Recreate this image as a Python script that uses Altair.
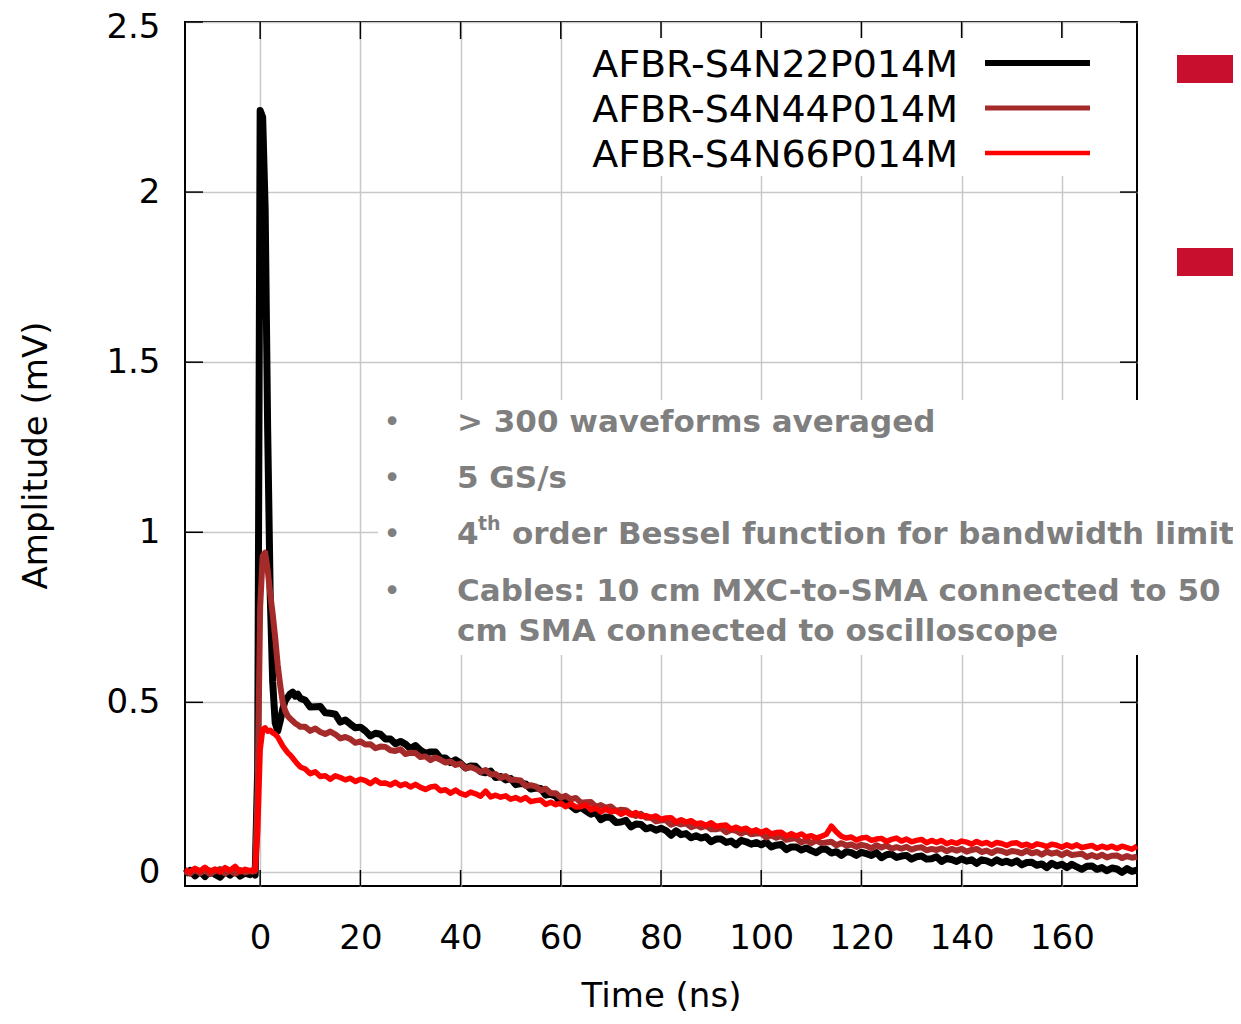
import altair as alt
import pandas as pd

SERIES = ["AFBR-S4N22P014M", "AFBR-S4N44P014M", "AFBR-S4N66P014M"]
COLORS = ["#000000", "#a52a2a", "#ff0000"]
WIDTHS = [7, 6, 5.5]
LEGEND_WIDTHS = [6, 5, 4.5]

X_TICKS = [0, 20, 40, 60, 80, 100, 120, 140, 160]
Y_TICKS = [0, 0.5, 1, 1.5, 2, 2.5]

# sample times (ns)
T_PRE = [-15, -14, -13, -12, -11, -10, -9, -8, -7, -6, -5, -4, -3, -2]
T_PEAK = [-1.5, -1.0, -0.5, 0.0, 0.5, 1.0, 1.5, 2.0, 2.5, 3.0, 3.5, 4.0, 4.5, 5.0, 5.5, 6.0, 6.5, 7.0, 7.5, 8.0]
T_TAIL = list(range(9, 176))

# AFBR-S4N22P014M (black)
B_PRE = [-0.004, 0.006, -0.010, 0.003, -0.012, 0.004, -0.006, -0.014, 0.002, -0.008, 0.005, -0.011, -0.002, -0.007]
B_PEAK = [0.003, -0.008, 0.30, 2.24, 2.22, 1.95, 1.30, 0.82, 0.56, 0.44, 0.415, 0.445, 0.48, 0.505, 0.515, 0.525, 0.53, 0.518, 0.524, 0.512]
B_TAIL = [
    0.506, 0.486, 0.487, 0.488, 0.469, 0.468, 0.465, 0.442, 0.448, 0.436,
    0.425, 0.427, 0.416, 0.401, 0.409, 0.406, 0.392, 0.392, 0.378, 0.385,
    0.377, 0.364, 0.373, 0.359, 0.350, 0.354, 0.354, 0.336, 0.336, 0.323,
    0.331, 0.321, 0.307, 0.313, 0.312, 0.296, 0.293, 0.298, 0.279, 0.282,
    0.272, 0.276, 0.258, 0.261, 0.260, 0.245, 0.248, 0.247, 0.227, 0.230,
    0.224, 0.204, 0.211, 0.196, 0.184, 0.191, 0.181, 0.171, 0.176, 0.155,
    0.163, 0.161, 0.147, 0.148, 0.153, 0.134, 0.142, 0.141, 0.128, 0.132,
    0.124, 0.130, 0.123, 0.109, 0.122, 0.111, 0.114, 0.102, 0.108, 0.101,
    0.105, 0.090, 0.098, 0.098, 0.088, 0.092, 0.081, 0.094, 0.090, 0.083,
    0.088, 0.081, 0.089, 0.075, 0.080, 0.082, 0.067, 0.075, 0.075, 0.066,
    0.072, 0.064, 0.058, 0.068, 0.068, 0.057, 0.061, 0.050, 0.061, 0.058,
    0.050, 0.059, 0.055, 0.050, 0.058, 0.043, 0.052, 0.054, 0.044, 0.048,
    0.050, 0.039, 0.046, 0.048, 0.039, 0.040, 0.046, 0.032, 0.041, 0.038,
    0.032, 0.040, 0.033, 0.037, 0.026, 0.037, 0.034, 0.027, 0.037, 0.029,
    0.033, 0.027, 0.034, 0.022, 0.029, 0.030, 0.021, 0.025, 0.014, 0.027,
    0.019, 0.024, 0.014, 0.024, 0.016, 0.009, 0.018, 0.019, 0.009, 0.014,
    0.005, 0.013, 0.010, 0.000, 0.011, 0.003, 0.007,
]

# AFBR-S4N44P014M (brown)
N_PRE = [0.003, -0.004, 0.008, -0.002, 0.006, -0.005, 0.004, 0.010, -0.003, 0.005, -0.004, 0.007, 0.000, 0.004]
N_PEAK = [0.002, 0.004, 0.25, 0.78, 0.93, 0.94, 0.89, 0.82, 0.76, 0.69, 0.61, 0.55, 0.50, 0.475, 0.46, 0.452, 0.445, 0.438, 0.434, 0.428]
N_TAIL = [
    0.428, 0.416, 0.423, 0.413, 0.407, 0.414, 0.406, 0.394, 0.398, 0.392,
    0.381, 0.385, 0.376, 0.377, 0.365, 0.370, 0.369, 0.359, 0.357, 0.362,
    0.348, 0.352, 0.351, 0.339, 0.341, 0.330, 0.338, 0.331, 0.323, 0.326,
    0.316, 0.320, 0.306, 0.310, 0.304, 0.295, 0.301, 0.288, 0.289, 0.278,
    0.283, 0.272, 0.272, 0.270, 0.254, 0.256, 0.253, 0.241, 0.246, 0.233,
    0.233, 0.220, 0.225, 0.215, 0.219, 0.205, 0.206, 0.207, 0.193, 0.198,
    0.190, 0.194, 0.181, 0.184, 0.183, 0.172, 0.166, 0.172, 0.161, 0.161,
    0.150, 0.153, 0.153, 0.140, 0.146, 0.141, 0.144, 0.133, 0.139, 0.132,
    0.137, 0.127, 0.127, 0.130, 0.118, 0.125, 0.122, 0.114, 0.121, 0.112,
    0.114, 0.114, 0.103, 0.109, 0.102, 0.107, 0.096, 0.099, 0.100, 0.088,
    0.095, 0.086, 0.094, 0.086, 0.088, 0.090, 0.080, 0.086, 0.079, 0.082,
    0.075, 0.081, 0.078, 0.071, 0.080, 0.073, 0.079, 0.070, 0.074, 0.070,
    0.075, 0.067, 0.072, 0.074, 0.065, 0.069, 0.066, 0.071, 0.062, 0.069,
    0.064, 0.069, 0.061, 0.066, 0.069, 0.060, 0.064, 0.057, 0.065, 0.063,
    0.057, 0.063, 0.061, 0.056, 0.064, 0.056, 0.060, 0.052, 0.061, 0.055,
    0.059, 0.051, 0.059, 0.051, 0.053, 0.055, 0.045, 0.051, 0.045, 0.052,
    0.044, 0.049, 0.050, 0.042, 0.048, 0.043, 0.046,
]

# AFBR-S4N66P014M (red)
R_PRE = [0.008, 0.002, 0.012, 0.004, 0.015, 0.003, 0.010, 0.001, 0.014, 0.006, 0.018, 0.002, 0.009, 0.005]
R_PEAK = [0.008, 0.006, 0.12, 0.36, 0.42, 0.425, 0.415, 0.418, 0.41, 0.406, 0.398, 0.385, 0.372, 0.362, 0.352, 0.345, 0.336, 0.327, 0.318, 0.31]
R_TAIL = [
    0.304, 0.290, 0.296, 0.282, 0.284, 0.274, 0.284, 0.279, 0.272, 0.277,
    0.267, 0.274, 0.270, 0.261, 0.272, 0.262, 0.263, 0.257, 0.265, 0.255,
    0.260, 0.251, 0.259, 0.250, 0.244, 0.251, 0.253, 0.240, 0.243, 0.233,
    0.242, 0.232, 0.227, 0.236, 0.231, 0.224, 0.239, 0.222, 0.227, 0.221,
    0.225, 0.215, 0.220, 0.213, 0.220, 0.208, 0.211, 0.213, 0.200, 0.206,
    0.199, 0.204, 0.193, 0.202, 0.192, 0.193, 0.199, 0.184, 0.189, 0.178,
    0.187, 0.178, 0.181, 0.171, 0.178, 0.169, 0.176, 0.164, 0.167, 0.162,
    0.166, 0.156, 0.160, 0.161, 0.148, 0.155, 0.148, 0.152, 0.143, 0.145,
    0.138, 0.146, 0.135, 0.138, 0.139, 0.127, 0.133, 0.126, 0.130, 0.120,
    0.125, 0.117, 0.124, 0.113, 0.117, 0.118, 0.107, 0.114, 0.107, 0.113,
    0.104, 0.108, 0.101, 0.106, 0.112, 0.136, 0.119, 0.106, 0.101, 0.104,
    0.095, 0.101, 0.103, 0.094, 0.098, 0.100, 0.091, 0.097, 0.101, 0.092,
    0.098, 0.090, 0.094, 0.097, 0.087, 0.094, 0.088, 0.094, 0.084, 0.090,
    0.085, 0.092, 0.089, 0.083, 0.091, 0.084, 0.088, 0.080, 0.088, 0.085,
    0.079, 0.086, 0.087, 0.079, 0.083, 0.076, 0.084, 0.081, 0.076, 0.083,
    0.080, 0.074, 0.081, 0.075, 0.081, 0.073, 0.076, 0.079, 0.071, 0.077,
    0.072, 0.077, 0.070, 0.077, 0.073, 0.068, 0.077,
]

NOTES = [
    "> 300 waveforms averaged",
    "5 GS/s",
    None,  # "4th order ..." line is built from the three parts below
    "Cables: 10 cm MXC-to-SMA connected to 50",
    "cm SMA connected to oscilloscope",
]
NOTE3 = ("4", "th", "order Bessel function for bandwidth limit")

TIME = T_PRE + T_PEAK + T_TAIL
VALUES = [B_PRE + B_PEAK + B_TAIL, N_PRE + N_PEAK + N_TAIL, R_PRE + R_PEAK + R_TAIL]
for v in VALUES:
    assert len(v) == len(TIME), (len(v), len(TIME))

rows = []
for s, vals in zip(SERIES, VALUES):
    for t, v in zip(TIME, vals):
        rows.append({"t": t, "v": v, "series": s})
df = pd.DataFrame(rows)

FONT = "DejaVu Sans"
W, H = 952, 864

xscale = alt.Scale(domain=[-15, 175], nice=False, zero=False)
yscale = alt.Scale(domain=[-0.04, 2.5], nice=False, zero=False)

x_axis = alt.Axis(
    values=X_TICKS, grid=True, gridColor="#c8c8c8", gridWidth=1.5,
    ticks=False, tickSize=0, domain=False,
    labelFont=FONT, labelFontSize=34, labelColor="black",
    labelBaseline="alphabetic", labelPadding=62, labelOverlap=False, labelFlush=False,
    title="Time (ns)", titleFont=FONT, titleFontSize=34, titleFontWeight="normal",
    titleColor="black", titleX=476, titleY=120, titleAlign="center",
    titleBaseline="alphabetic",
)
y_axis = alt.Axis(
    values=Y_TICKS, format="~g", grid=True, gridColor="#c8c8c8", gridWidth=1.5,
    ticks=False, tickSize=0, domain=False,
    labelFont=FONT, labelFontSize=34, labelColor="black",
    labelBaseline="middle", labelPadding=25, labelOverlap=False, labelFlush=False,
    labelOffset={"condition": {"test": "datum.value == 2.5", "value": 5}, "value": 0},
    title="Amplitude (mV)", titleFont=FONT, titleFontSize=34, titleFontWeight="normal",
    titleColor="black", titleAngle=270, titleX=-139, titleY=433,
    titleAlign="center", titleBaseline="alphabetic",
)

X = alt.X("t:Q", scale=xscale, axis=x_axis)
Y = alt.Y("v:Q", scale=yscale, axis=y_axis)

dummy = pd.DataFrame({"a": [0]})
layers = []

# inward ticks (gnuplot style) on all four sides
xt = pd.DataFrame({"t": X_TICKS})
yt = pd.DataFrame({"v": Y_TICKS})
for y0, y1 in [(0, 17), (H - 16, H)]:
    layers.append(
        alt.Chart(xt).mark_rule(color="black", strokeWidth=1.5).encode(
            x=X, y=alt.value(y0), y2=alt.value(y1),
        )
    )
for x0, x1 in [(0, 18), (W - 17, W)]:
    layers.append(
        alt.Chart(yt).mark_rule(color="black", strokeWidth=1.5).encode(
            y=Y, x=alt.value(x0), x2=alt.value(x1),
        )
    )

# data lines (black first, red on top)
for s, c, w in zip(SERIES, COLORS, WIDTHS):
    layers.append(
        alt.Chart(df).transform_filter(alt.datum.series == s)
        .mark_line(color=c, strokeWidth=w, strokeJoin="round")
        .encode(x=X, y=Y, order="t:Q")
    )

# white boxes (legend background and notes overlay)
layers.append(
    alt.Chart(dummy).mark_rect(color="white").encode(
        x=alt.value(380), x2=alt.value(925), y=alt.value(16), y2=alt.value(154)
    )
)
layers.append(
    alt.Chart(dummy).mark_rect(color="white").encode(
        x=alt.value(193), x2=alt.value(1060), y=alt.value(378), y2=alt.value(633)
    )
)

# legend
for i, (s, c, w) in enumerate(zip(SERIES, COLORS, LEGEND_WIDTHS)):
    layers.append(
        alt.Chart(dummy).mark_text(
            text=s, font=FONT, fontSize=38, color="black", align="right",
            baseline="alphabetic", x=773, y=55 + 45 * i,
        ).encode()
    )
    layers.append(
        alt.Chart(dummy).mark_rule(color=c, strokeWidth=w).encode(
            x=alt.value(800), x2=alt.value(905), y=alt.value(41 + 45 * i)
        )
    )

# notes text
GREY = "#7f7f7f"
BASELINES = [410, 466, 522, 579, 619]
FS = 31
for i, b in enumerate(BASELINES):
    if i < 4:
        layers.append(
            alt.Chart(dummy).mark_text(
                text="\u2022", font=FONT, fontSize=30, color=GREY, align="center",
                baseline="alphabetic", x=207, y=b,
            ).encode()
        )
    if NOTES[i] is not None:
        layers.append(
            alt.Chart(dummy).mark_text(
                text=NOTES[i], font=FONT, fontSize=FS, fontWeight="bold", color=GREY,
                align="left", baseline="alphabetic", x=272, y=b,
            ).encode()
        )
layers.append(alt.Chart(dummy).mark_text(
    text=NOTE3[0], font=FONT, fontSize=FS, fontWeight="bold", color=GREY,
    align="left", baseline="alphabetic", x=272, y=522).encode())
layers.append(alt.Chart(dummy).mark_text(
    text=NOTE3[1], font=FONT, fontSize=19, fontWeight="bold", color=GREY,
    align="left", baseline="alphabetic", x=293, y=508).encode())
layers.append(alt.Chart(dummy).mark_text(
    text=NOTE3[2], font=FONT, fontSize=FS,
    fontWeight="bold", color=GREY, align="left", baseline="alphabetic", x=327, y=522).encode())

# decorative red bars at the right edge
for y0 in [33, 226]:
    layers.append(
        alt.Chart(dummy).mark_rect(color="#c8102e").encode(
            x=alt.value(992), x2=alt.value(1060), y=alt.value(y0), y2=alt.value(y0 + 28)
        )
    )

chart = alt.layer(*layers).properties(
    width=W, height=H,
    autosize=alt.AutoSizeParams(type="none"),
    padding={"left": 177, "top": 14, "right": 96, "bottom": 130},
    background="white",
).configure_view(stroke="black", strokeWidth=2)

chart.save("out.html", embed_options={"renderer": "svg", "actions": False})
